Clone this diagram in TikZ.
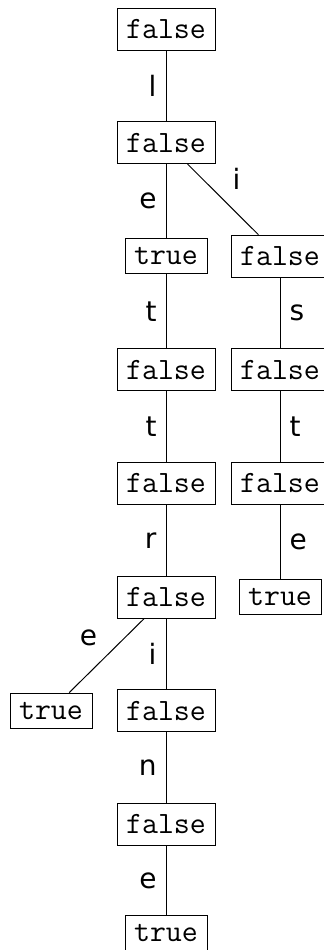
\documentclass[tikz,border=0pt]{standalone}
\usepackage{fontspec}
\newfontfamily\labfont{DejaVu Sans}
\begin{document}
\begin{tikzpicture}[x=0.5pt,y=-0.5pt,
  every path/.style={line width=0.5pt},
  fbox/.style={draw, inner sep=0pt, minimum width=49pt, minimum height=21pt, font=\ttfamily\fontsize{15.5}{18}\selectfont},
  tbox/.style={draw, inner sep=0pt, minimum width=41pt, minimum height=17.5pt, font=\ttfamily\fontsize{15.5}{18}\selectfont},
  lab/.style={font=\labfont\fontsize{14}{16}\selectfont, inner sep=4.5pt}]
\useasboundingbox (0,0) rectangle (323,950);
% main column
\node[fbox] (n1) at (166,29) {false};
\node[fbox] (n2) at (166,142.6) {false};
\node[tbox] (n3) at (166,256.2) {true};
\node[fbox] (n4) at (166,369.8) {false};
\node[fbox] (n5) at (166,483.4) {false};
\node[fbox] (n6) at (166,597) {false};
\node[fbox] (n7) at (166,710.6) {false};
\node[fbox] (n8) at (166,824.2) {false};
\node[tbox] (n9) at (166,933) {true};
% right column
\node[fbox] (r1) at (280,256.2) {false};
\node[fbox] (r2) at (280,369.8) {false};
\node[fbox] (r3) at (280,483.4) {false};
\node[tbox] (r4) at (280,597) {true};
% left leaf
\node[tbox] (l1) at (51,710.6) {true};
% edges
\draw (n1) -- node[lab,left] {l} (n2);
\draw (n2) -- node[lab,left] {e} (n3);
\draw (n3) -- node[lab,left] {t} (n4);
\draw (n4) -- node[lab,left] {t} (n5);
\draw (n5) -- node[lab,left] {r} (n6);
\draw (n6) -- node[lab,left] {i} (n7);
\draw (n7) -- node[lab,left] {n} (n8);
\draw (n8) -- node[lab,left] {e} (n9);
\draw (n2) -- node[lab,above right] {i} (r1);
\draw (r1) -- node[lab,right] {s} (r2);
\draw (r2) -- node[lab,right] {t} (r3);
\draw (r3) -- node[lab,right] {e} (r4);
\draw (n6) -- node[lab,above left] {e} (l1);
\end{tikzpicture}
\end{document}
